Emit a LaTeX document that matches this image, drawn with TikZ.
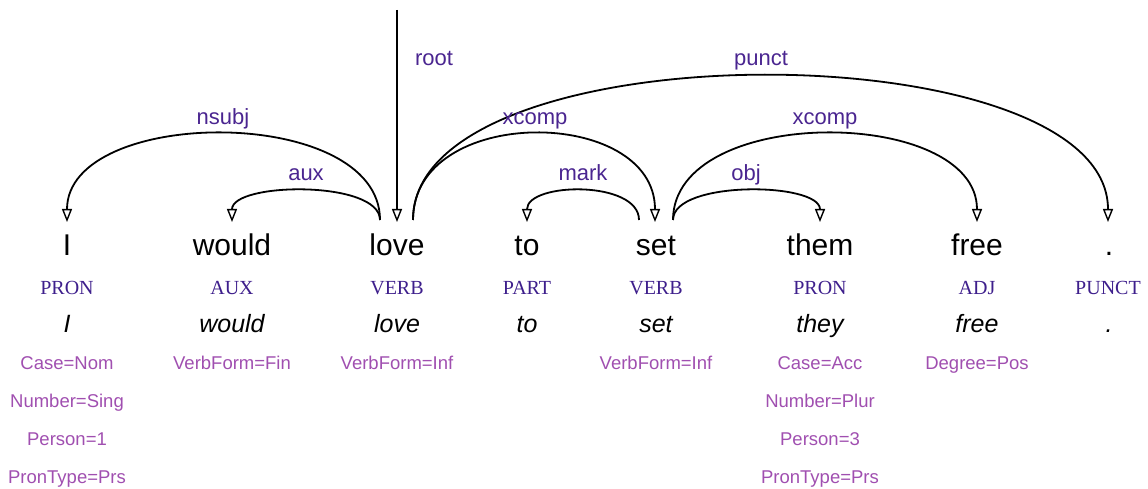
\documentclass[tikz,border=0pt]{standalone}
\usepackage{fontspec}
\setmainfont{Liberation Sans}
\newfontfamily\posfont{Liberation Serif}
\usetikzlibrary{arrows.meta}
\definecolor{deplabel}{HTML}{4A2590}
\definecolor{posclr}{HTML}{3E1F8C}
\definecolor{featclr}{HTML}{A04FB0}
\tikzset{
  x=1pt, y=-1pt,
  word/.style={anchor=base, inner sep=0pt, font=\fontsize{30}{30}\selectfont},
  postag/.style={anchor=base, inner sep=0pt, text=posclr, font=\posfont\fontsize{20}{20}\selectfont},
  lemma/.style={anchor=base, inner sep=0pt, font=\itshape\fontsize{25}{25}\selectfont},
  feat/.style={anchor=base, inner sep=0pt, text=featclr, font=\fontsize{18.5}{18.5}\selectfont},
  rel/.style={anchor=base, inner sep=0pt, text=deplabel, font=\fontsize{22}{22}\selectfont},
  arc/.style={draw=black, line width=1.8pt, -{Triangle[open, length=13pt, width=10pt, line width=1.4pt]}},
}
\begin{document}
\begin{tikzpicture}
\useasboundingbox (0,0) rectangle (1148,489);

% tokens
\node[word] (w1) at (67,255) {I};
\node[word] (w2) at (232,255) {would};
\node[word] (w3) at (397,255) {love};
\node[word] (w4) at (527,255) {to};
\node[word] (w5) at (656,255) {set};
\node[word] (w6) at (820,255) {them};
\node[word] (w7) at (977,255) {free};
\node[word] (w8) at (1109,255) {.};

% part-of-speech tags
\node[postag] (p1) at (67,294) {PRON};
\node[postag] (p2) at (232,294) {AUX};
\node[postag] (p3) at (397,294) {VERB};
\node[postag] (p4) at (527,294) {PART};
\node[postag] (p5) at (656,294) {VERB};
\node[postag] (p6) at (820,294) {PRON};
\node[postag] (p7) at (977,294) {ADJ};
\node[postag] (p8) at (1108,294) {PUNCT};

% lemmas
\node[lemma] (l1) at (67,332) {I};
\node[lemma] (l2) at (232,332) {would};
\node[lemma] (l3) at (397,332) {love};
\node[lemma] (l4) at (527,332) {to};
\node[lemma] (l5) at (656,332) {set};
\node[lemma] (l6) at (820,332) {they};
\node[lemma] (l7) at (977,332) {free};
\node[lemma] (l8) at (1109,332) {.};

% morphological features
\node[feat] (f1a) at (67,369) {Case=Nom};
\node[feat] (f1b) at (67,407) {Number=Sing};
\node[feat] (f1c) at (67,445) {Person=1};
\node[feat] (f1d) at (67,483) {PronType=Prs};
\node[feat] (f2a) at (232,369) {VerbForm=Fin};
\node[feat] (f3a) at (397,369) {VerbForm=Inf};
\node[feat] (f5a) at (656,369) {VerbForm=Inf};
\node[feat] (f6a) at (820,369) {Case=Acc};
\node[feat] (f6b) at (820,407) {Number=Plur};
\node[feat] (f6c) at (820,445) {Person=3};
\node[feat] (f6d) at (820,483) {PronType=Prs};
\node[feat] (f7a) at (977,369) {Degree=Pos};

% arc end points above the tokens
\coordinate (top) at (397,10);
\coordinate (loveL) at (380,220);
\coordinate (loveR) at (413,220);
\coordinate (loveM) at (397,222);
\coordinate (setL) at (639,220);
\coordinate (setR) at (673,220);
\coordinate (setM) at (655,222);
\coordinate (iM) at (67,222);
\coordinate (wouldM) at (232,222);
\coordinate (toM) at (527,222);
\coordinate (themM) at (820,222);
\coordinate (freeM) at (977,222);
\coordinate (dotM) at (1108,222);

% dependency arcs
\draw[arc] (top) -- (loveM);
\draw[arc] (loveL) .. controls +(0,-116) and +(0,-116) .. (iM);
\draw[arc] (loveL) .. controls +(0,-40) and +(0,-40) .. (wouldM);
\draw[arc] (loveR) .. controls +(0,-116) and +(0,-116) .. (setM);
\draw[arc] (loveR) .. controls +(0,-193) and +(0,-193) .. (dotM);
\draw[arc] (setL) .. controls +(0,-40) and +(0,-40) .. (toM);
\draw[arc] (setR) .. controls +(0,-40) and +(0,-40) .. (themM);
\draw[arc] (setR) .. controls +(0,-116) and +(0,-116) .. (freeM);

% relation labels
\node[rel] (r0) at (434,66) {root};
\node[rel] (r1) at (223,125) {nsubj};
\node[rel] (r2) at (306,181) {aux};
\node[rel] (r3) at (535,125) {xcomp};
\node[rel] (r4) at (761,66) {punct};
\node[rel] (r5) at (583,181) {mark};
\node[rel] (r6) at (746,181) {obj};
\node[rel] (r7) at (825,125) {xcomp};
\end{tikzpicture}
\end{document}
